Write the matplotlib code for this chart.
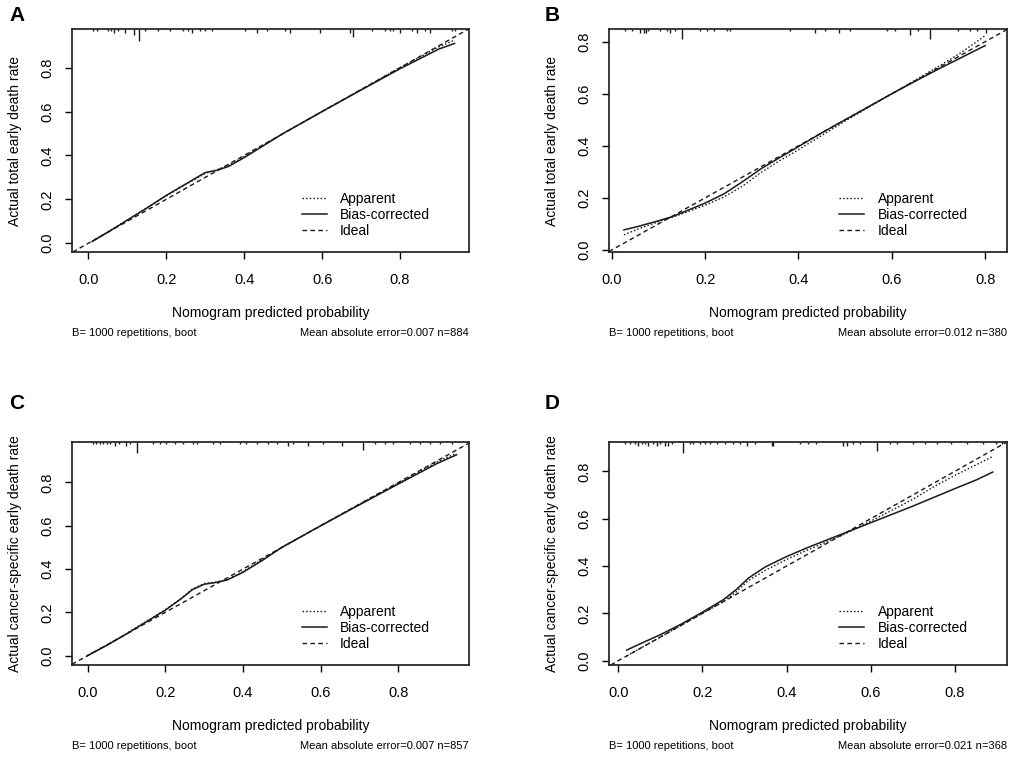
import numpy as np
import matplotlib
matplotlib.use('Agg')
import matplotlib.pyplot as plt
from matplotlib.transforms import blended_transform_factory

plt.rcParams['font.family'] = ['Liberation Sans', 'DejaVu Sans']

# ---- data ----
panel_letters = ['A', 'B', 'C', 'D']
y_labels = ['Actual total early death rate', 'Actual total early death rate',
            'Actual cancer-specific early death rate', 'Actual cancer-specific early death rate']
mae_text = ['Mean absolute error=0.007 n=884', 'Mean absolute error=0.012 n=380',
            'Mean absolute error=0.007 n=857', 'Mean absolute error=0.021 n=368']
boot_text = 'B= 1000 repetitions, boot'
x_label = 'Nomogram predicted probability'
legend_labels = ['Apparent', 'Bias-corrected', 'Ideal']
tick_vals = [0.0, 0.2, 0.4, 0.6, 0.8]
tick_text = ['0.0', '0.2', '0.4', '0.6', '0.8']

# panel A
a_x = [0.01, 0.05, 0.10, 0.15, 0.20, 0.25, 0.30, 0.33, 0.36, 0.40, 0.45, 0.50, 0.60, 0.70, 0.80, 0.90, 0.94]
a_bias = [0.008, 0.05, 0.105, 0.16, 0.218, 0.27, 0.322, 0.332, 0.35, 0.39, 0.445, 0.5, 0.6, 0.698, 0.795, 0.885, 0.91]
a_app = [0.01, 0.052, 0.106, 0.162, 0.215, 0.268, 0.318, 0.335, 0.355, 0.395, 0.448, 0.5, 0.6, 0.7, 0.8, 0.895, 0.925]
a_rug = [0.013, 0.021, 0.051, 0.057, 0.066, 0.075, 0.093, 0.117, 0.129, 0.146, 0.180, 0.210, 0.244,
         0.257, 0.265, 0.287, 0.300, 0.317, 0.402, 0.432, 0.458, 0.505, 0.518, 0.595, 0.672, 0.680,
         0.727, 0.762, 0.774, 0.783, 0.800, 0.830, 0.843, 0.864, 0.877, 0.933, 0.941]
a_rug_n = [1, 1, 1, 1, 2, 1, 2, 3, 6, 1, 1, 1, 1, 1, 2, 1, 1, 1, 1, 2, 1, 1, 2, 2, 2, 4,
           1, 1, 1, 1, 2, 1, 2, 1, 2, 1, 1]

# panel B
b_x = [0.026, 0.06, 0.10, 0.13, 0.16, 0.20, 0.24, 0.28, 0.32, 0.36, 0.40, 0.45, 0.50, 0.55, 0.60, 0.65, 0.70, 0.75, 0.80]
b_bias = [0.077, 0.092, 0.112, 0.128, 0.15, 0.18, 0.215, 0.262, 0.312, 0.355, 0.397, 0.45, 0.5, 0.55, 0.6, 0.648, 0.695, 0.74, 0.785]
b_app = [0.058, 0.083, 0.108, 0.126, 0.145, 0.172, 0.203, 0.245, 0.298, 0.343, 0.385, 0.44, 0.495, 0.548, 0.6, 0.652, 0.705, 0.76, 0.823]
b_rug = [0.029, 0.043, 0.061, 0.068, 0.073, 0.078, 0.103, 0.118, 0.125, 0.136, 0.150, 0.189, 0.204,
         0.218, 0.246, 0.253, 0.382, 0.436, 0.457, 0.486, 0.511, 0.589, 0.607, 0.640, 0.657, 0.681,
         0.742, 0.768, 0.782, 0.803]
b_rug_n = [1, 1, 2, 2, 2, 1, 1, 1, 2, 1, 5, 1, 1, 1, 1, 1, 1, 2, 1, 2, 1, 1, 1, 3, 1, 5, 1, 1, 1, 2]

# panel C
c_x = [0.0, 0.05, 0.10, 0.15, 0.20, 0.24, 0.27, 0.30, 0.33, 0.36, 0.40, 0.45, 0.50, 0.60, 0.70, 0.80, 0.90, 0.95]
c_bias = [0.0, 0.048, 0.1, 0.155, 0.21, 0.262, 0.305, 0.33, 0.338, 0.35, 0.385, 0.44, 0.5, 0.6, 0.697, 0.793, 0.888, 0.928]
c_app = [0.002, 0.05, 0.102, 0.157, 0.212, 0.262, 0.308, 0.333, 0.34, 0.352, 0.388, 0.445, 0.5, 0.6, 0.7, 0.797, 0.895, 0.935]
c_rug = [0.0145, 0.023, 0.032, 0.040, 0.049, 0.059, 0.070, 0.081, 0.099, 0.109, 0.128, 0.169, 0.186,
         0.203, 0.225, 0.246, 0.272, 0.281, 0.323, 0.341, 0.392, 0.409, 0.435, 0.465, 0.487, 0.517,
         0.530, 0.568, 0.607, 0.654, 0.710, 0.740, 0.766, 0.787, 0.830, 0.856, 0.882, 0.907, 0.937]
c_rug_n = [1, 1, 1, 1, 1, 1, 2, 1, 2, 1, 5.5, 1, 1, 1, 1, 1, 1, 1, 1, 1, 1, 1, 1, 1, 1, 2,
           1, 2, 1, 2, 4, 1, 1, 1, 1, 1, 1, 1, 1]

# panel D
d_x = [0.02, 0.06, 0.10, 0.15, 0.20, 0.25, 0.28, 0.31, 0.35, 0.40, 0.45, 0.50, 0.55, 0.60, 0.65, 0.70, 0.75, 0.80, 0.85, 0.89]
d_bias = [0.045, 0.078, 0.11, 0.155, 0.205, 0.258, 0.3, 0.35, 0.397, 0.44, 0.478, 0.513, 0.548, 0.583, 0.618, 0.653, 0.69, 0.727, 0.763, 0.797]
d_app = [0.02, 0.06, 0.1, 0.15, 0.2, 0.25, 0.29, 0.34, 0.382, 0.428, 0.468, 0.505, 0.545, 0.59, 0.635, 0.682, 0.735, 0.783, 0.827, 0.863]
d_rug = [0.016, 0.028, 0.040, 0.048, 0.056, 0.063, 0.071, 0.083, 0.091, 0.099, 0.111, 0.119, 0.127,
         0.154, 0.170, 0.178, 0.194, 0.206, 0.218, 0.234, 0.254, 0.273, 0.289, 0.305, 0.325, 0.365,
         0.368, 0.432, 0.452, 0.471, 0.535, 0.543, 0.558, 0.574, 0.614, 0.646, 0.662, 0.701, 0.729,
         0.757, 0.792, 0.828, 0.867, 0.899, 0.911]
d_rug_n = [1, 1, 1, 2, 1, 1, 2, 1, 2, 1, 2, 2, 1, 5.5, 1, 1, 1, 1, 1, 1, 1, 1, 1, 2, 1, 2,
           2, 1, 1, 1, 2, 2, 1, 1, 4.5, 1, 1, 1, 1, 1, 1, 1, 1, 1, 1]

panels = [(a_x, a_bias, a_app, a_rug, a_rug_n),
          (b_x, b_bias, b_app, b_rug, b_rug_n),
          (c_x, c_bias, c_app, c_rug, c_rug_n),
          (d_x, d_bias, d_app, d_rug, d_rug_n)]

# ---- layout (pixels of the 1013x758 reference) ----
W, H = 1013, 758
boxes = [(72, 29, 469, 252), (609, 29, 1007, 252),
         (72, 442, 469, 665), (609, 442, 1007, 665)]
xlims = [(-0.042, 0.977), (-0.006, 0.847), (-0.040, 0.982), (-0.022, 0.924)]
ylims = [(-0.040, 0.976), (-0.008, 0.849), (-0.043, 0.987), (-0.018, 0.924)]
letter_pos = [(9, 6), (545, 6), (9, 394), (545, 394)]
rug_unit = 2.0  # px per count unit

line_col = '#1a1a1a'

fig = plt.figure(figsize=(W / 100, H / 100), dpi=100)

for i, (px, bias, app, rug, rug_n) in enumerate(panels):
    x0, y0, x1, y1 = boxes[i]
    ax = fig.add_axes([x0 / W, 1 - y1 / H, (x1 - x0) / W, (y1 - y0) / H])
    ax.set_xlim(*xlims[i])
    ax.set_ylim(*ylims[i])

    l_app, = ax.plot(px, app, color=line_col, lw=1.0, linestyle=(0, (1.1, 1.5)))
    l_bias, = ax.plot(px, bias, color=line_col, lw=1.1, linestyle='-')
    l_ideal = ax.axline((0, 0), slope=1, color=line_col, lw=1.0, linestyle=(0, (3.3, 2.4)))

    # rug of predicted probabilities hanging from the top border
    trans = blended_transform_factory(ax.transData, ax.transAxes)
    ax_h = y1 - y0
    lengths = np.array(rug_n) * rug_unit / ax_h
    ax.vlines(rug, 1 - lengths, 1, transform=trans, color=line_col, lw=1.0)

    ax.set_xticks(tick_vals, tick_text)
    ax.set_yticks(tick_vals, tick_text)
    ax.tick_params(direction='out', length=5, width=1.0, labelsize=10.5, colors='black')
    ax.tick_params(axis='x', pad=9.8)
    ax.tick_params(axis='y', pad=8, labelrotation=90)
    for lab in ax.get_yticklabels():
        lab.set_va('center')
    for sp in ax.spines.values():
        sp.set_linewidth(1.25)
        sp.set_color('#222222')

    ax.set_xlabel(x_label, fontsize=10)
    ax.xaxis.label.set_va('center')
    ax.xaxis.set_label_coords(0.5, -61 / ax_h)
    ax.set_ylabel(y_labels[i], fontsize=10)
    ax.yaxis.label.set_va('center')
    ax.yaxis.set_label_coords(-57 / (x1 - x0), 0.5)

    ax.text(0, -81 / ax_h, boot_text, transform=ax.transAxes, fontsize=8, ha='left', va='center')
    ax.text(1, -81 / ax_h, mae_text[i], transform=ax.transAxes, fontsize=8, ha='right', va='center')

    ax.legend([l_app, l_bias, l_ideal], legend_labels, loc='lower left',
              bbox_to_anchor=(0.579, 0.062), frameon=False, fontsize=10,
              handlelength=1.8, handletextpad=0.95, labelspacing=0.15,
              borderpad=0, borderaxespad=0)

    lx, ly = letter_pos[i]
    fig.text(lx / W, 1 - ly / H, panel_letters[i], fontsize=15, fontweight='bold',
             ha='left', va='top')

plt.savefig('out.png', dpi=100)
plt.close()
